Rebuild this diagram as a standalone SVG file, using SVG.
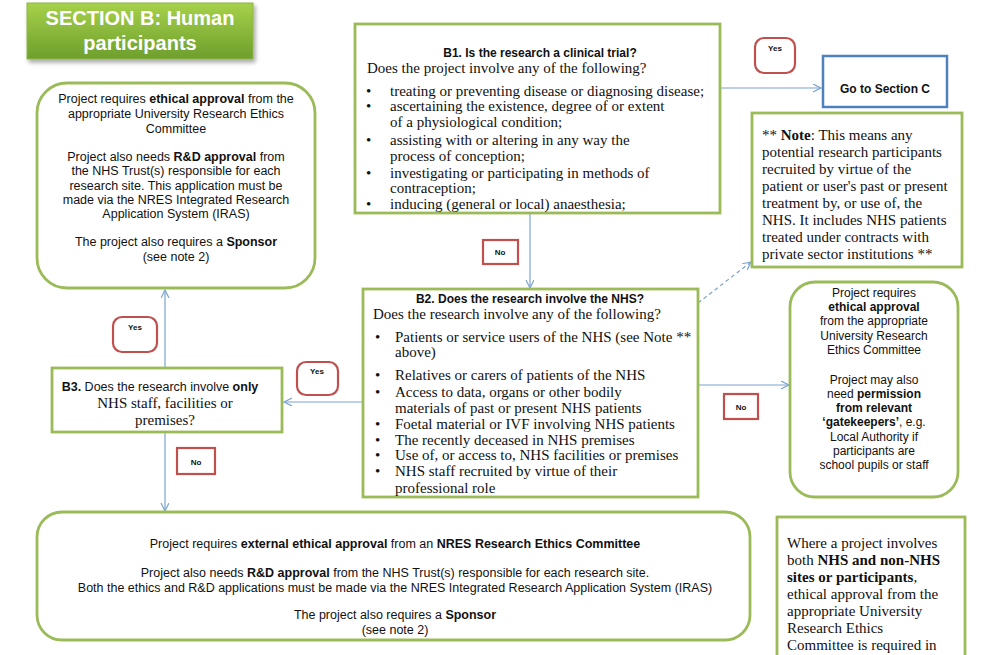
<svg xmlns="http://www.w3.org/2000/svg" width="981" height="655" viewBox="0 0 981 655">
<defs>
<linearGradient id="hdr" x1="0" y1="0" x2="0" y2="1">
<stop offset="0" stop-color="#A6D14A"/>
<stop offset="1" stop-color="#6E9F2C"/>
</linearGradient>
<filter id="sh" x="-10%" y="-10%" width="130%" height="140%">
<feDropShadow dx="2" dy="3" stdDeviation="2" flood-color="#000" flood-opacity="0.35"/>
</filter>
<marker id="arr" markerWidth="10" markerHeight="10" refX="8" refY="4" orient="auto" markerUnits="userSpaceOnUse">
<path d="M0,0 L8,4 L0,8" fill="none" stroke="#7BA3D0" stroke-width="1.2"/>
</marker>
</defs>
<style>
.box{fill:#fff;stroke:#9BBB59;stroke-width:2.8}
.lab{fill:#fff;stroke:#C0504D;stroke-width:2.2}
.ln{fill:none;stroke:#7BA3D0;stroke-width:1.2;marker-end:url(#arr)}
.s{font-family:"Liberation Sans",Arial,sans-serif;font-size:12px;fill:#111}
.sc{font-family:"Liberation Sans",Arial,sans-serif;font-size:12px;fill:#111;text-anchor:middle}
.sc5{font-family:"Liberation Sans",Arial,sans-serif;font-size:12.5px;fill:#111;text-anchor:middle}
.t{font-family:"Liberation Serif","Times New Roman",serif;font-size:15px;fill:#111}
.tc{font-family:"Liberation Serif","Times New Roman",serif;font-size:15px;fill:#111;text-anchor:middle}
.lt{font-family:"Liberation Sans",Arial,sans-serif;font-size:8px;font-weight:bold;fill:#111;text-anchor:middle}
.b{font-weight:bold}
</style>
<rect width="981" height="655" fill="#fff"/>

<g id="header">
<rect x="27" y="3" width="226" height="56" fill="url(#hdr)" stroke="#8DB545" stroke-width="1" filter="url(#sh)"/>
<text x="140" y="25" font-family="Liberation Sans,Arial,sans-serif" font-size="20" font-weight="bold" fill="#fff" text-anchor="middle">SECTION B: Human</text>
<text x="140" y="50" font-family="Liberation Sans,Arial,sans-serif" font-size="20" font-weight="bold" fill="#fff" text-anchor="middle">participants</text>
</g>

<g id="connectors">
<line class="ln" x1="720" y1="88" x2="821" y2="88"/>
<line class="ln" x1="530" y1="214" x2="530" y2="288"/>
<line class="ln" x1="698" y1="303" x2="751" y2="262" stroke-dasharray="4,3"/>
<line class="ln" x1="698" y1="385" x2="789" y2="385"/>
<line class="ln" x1="363" y1="402" x2="284" y2="402"/>
<line class="ln" x1="165" y1="367" x2="165" y2="290"/>
<line class="ln" x1="165" y1="433" x2="165" y2="511"/>
</g>

<g id="b1">
<rect class="box" x="355" y="24" width="365" height="189"/>
<text class="sc b" x="540" y="57">B1. Is the research a clinical trial?</text>
<text class="t" x="367" y="73" font-size="14.3">Does the project involve any of the following?</text>
<g class="t" font-size="14.3">
<text x="366" y="96">•</text><text x="390" y="96">treating or preventing disease or diagnosing disease;</text>
<text x="366" y="111">•</text><text x="390" y="111">ascertaining the existence, degree of or extent</text>
<text x="390" y="127">of a physiological condition;</text>
<text x="366" y="145">•</text><text x="390" y="145">assisting with or altering in any way the</text>
<text x="390" y="161">process of conception;</text>
<text x="366" y="178">•</text><text x="390" y="178">investigating or participating in methods of</text>
<text x="390" y="193">contraception;</text>
<text x="366" y="209">•</text><text x="390" y="209">inducing (general or local) anaesthesia;</text>
</g>
</g>

<g id="yes1">
<rect class="lab" x="755" y="38" width="40" height="35" rx="9"/>
<text class="lt" x="775" y="51">Yes</text>
</g>

<g id="goC">
<rect x="823" y="56" width="124" height="51" fill="#fff" stroke="#4F81BD" stroke-width="2.5"/>
<text class="sc b" x="885" y="93">Go to Section C</text>
</g>

<g id="note">
<rect class="box" x="752" y="113" width="210" height="154"/>
<g class="t" font-size="14.5">
<text x="762" y="140">** <tspan class="b">Note</tspan>: This means any</text>
<text x="762" y="157">potential research participants</text>
<text x="762" y="174">recruited by virtue of the</text>
<text x="762" y="191">patient or user's past or present</text>
<text x="762" y="208">treatment by, or use of, the</text>
<text x="762" y="225">NHS. It includes NHS patients</text>
<text x="762" y="242">treated under contracts with</text>
<text x="762" y="259">private sector institutions **</text>
</g>
</g>

<g id="leftTop">
<rect class="box" x="37" y="83" width="278" height="205" rx="30"/>
<text class="sc5" x="176" y="103">Project requires <tspan class="b">ethical approval</tspan> from the</text>
<text class="sc5" x="176" y="118">appropriate University Research Ethics</text>
<text class="sc5" x="176" y="133">Committee</text>
<text class="sc5" x="176" y="161">Project also needs <tspan class="b">R&amp;D approval</tspan> from</text>
<text class="sc5" x="176" y="175">the NHS Trust(s) responsible for each</text>
<text class="sc5" x="176" y="190">research site. This application must be</text>
<text class="sc5" x="176" y="204">made via the NRES Integrated Research</text>
<text class="sc5" x="176" y="218">Application System (IRAS)</text>
<text class="sc5" x="176" y="246">The project also requires a <tspan class="b">Sponsor</tspan></text>
<text class="sc5" x="176" y="261">(see note 2)</text>
</g>

<g id="no1">
<rect class="lab" x="483" y="240" width="35" height="24"/>
<text class="lt" x="500" y="255">No</text>
</g>

<g id="b2">
<rect class="box" x="363" y="289" width="335" height="208"/>
<text class="sc b" x="530" y="303">B2. Does the research involve the NHS?</text>
<text class="t" x="373" y="319">Does the research involve any of the following?</text>
<text class="t" x="375" y="342">•</text><text class="t" x="395" y="342">Patients or service users of the NHS (see Note **</text>
<text class="t" x="395" y="357">above)</text>
<text class="t" x="375" y="380">•</text><text class="t" x="395" y="380">Relatives or carers of patients of the NHS</text>
<text class="t" x="375" y="397">•</text><text class="t" x="395" y="397">Access to data, organs or other bodily</text>
<text class="t" x="395" y="413">materials of past or present NHS patients</text>
<text class="t" x="375" y="429">•</text><text class="t" x="395" y="429">Foetal material or IVF involving NHS patients</text>
<text class="t" x="375" y="445">•</text><text class="t" x="395" y="445">The recently deceased in NHS premises</text>
<text class="t" x="375" y="460">•</text><text class="t" x="395" y="460">Use of, or access to, NHS facilities or premises</text>
<text class="t" x="375" y="476">•</text><text class="t" x="395" y="476">NHS staff recruited by virtue of their</text>
<text class="t" x="395" y="493">professional role</text>
</g>

<g id="rightBox">
<rect class="box" x="790" y="282" width="168" height="215" rx="25"/>
<text class="sc" x="874" y="297">Project requires</text>
<text class="sc b" x="874" y="311">ethical approval</text>
<text class="sc" x="874" y="325">from the appropriate</text>
<text class="sc" x="874" y="340">University Research</text>
<text class="sc" x="874" y="354">Ethics Committee</text>
<text class="sc" x="874" y="384">Project may also</text>
<text class="sc" x="874" y="398">need <tspan class="b">permission</tspan></text>
<text class="sc b" x="874" y="412">from relevant</text>
<text class="sc" x="874" y="426"><tspan class="b">‘gatekeepers’</tspan>, e.g.</text>
<text class="sc" x="874" y="441">Local Authority if</text>
<text class="sc" x="874" y="455">participants are</text>
<text class="sc" x="874" y="469">school pupils or staff</text>
</g>

<g id="no2">
<rect class="lab" x="724" y="394" width="34" height="25"/>
<text class="lt" x="741" y="410">No</text>
</g>

<g id="yes2">
<rect class="lab" x="113" y="317" width="44" height="35" rx="9"/>
<text class="lt" x="135" y="330">Yes</text>
</g>

<g id="yes3">
<rect class="lab" x="297" y="362" width="41" height="33" rx="9"/>
<text class="lt" x="317" y="374">Yes</text>
</g>

<g id="b3">
<rect class="box" x="52" y="368" width="230" height="64"/>
<text class="sc5" x="160" y="391"><tspan class="b">B3.</tspan> Does the research involve <tspan class="b">only</tspan></text>
<text class="tc" x="165" y="408">NHS staff, facilities or</text>
<text class="tc" x="165" y="425">premises?</text>
</g>

<g id="no3">
<rect class="lab" x="177" y="448" width="38" height="26"/>
<text class="lt" x="196" y="465">No</text>
</g>

<g id="bottom">
<rect class="box" x="37" y="512" width="713" height="128" rx="25"/>
<text class="sc5" x="395" y="548">Project requires <tspan class="b">external ethical approval</tspan> from an <tspan class="b">NRES Research Ethics Committee</tspan></text>
<text class="sc5" x="395" y="577">Project also needs <tspan class="b">R&amp;D approval</tspan> from the NHS Trust(s) responsible for each research site.</text>
<text class="sc5" x="395" y="592">Both the ethics and R&amp;D applications must be made via the NRES Integrated Research Application System (IRAS)</text>
<text class="sc5" x="395" y="619">The project also requires a <tspan class="b">Sponsor</tspan></text>
<text class="sc5" x="395" y="634">(see note 2)</text>
</g>

<g id="bottomRight">
<rect class="box" x="777" y="517" width="188" height="150"/>
<text class="t" x="787" y="548">Where a project involves</text>
<text class="t" x="787" y="565">both <tspan class="b">NHS and non-NHS</tspan></text>
<text class="t b" x="787" y="582">sites or participants<tspan font-weight="normal">,</tspan></text>
<text class="t" x="787" y="599">ethical approval from the</text>
<text class="t" x="787" y="616">appropriate University</text>
<text class="t" x="787" y="633">Research Ethics</text>
<text class="t" x="787" y="650">Committee is required in</text>
</g>
</svg>
